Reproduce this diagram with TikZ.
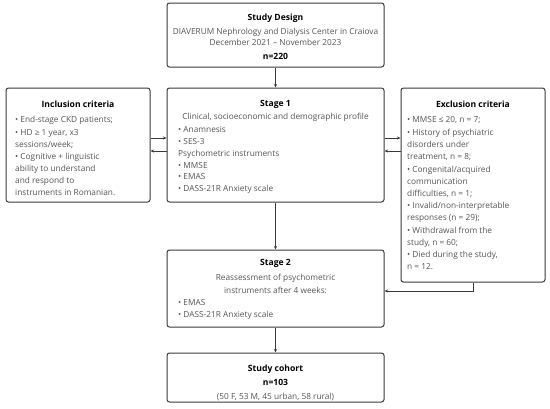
\documentclass[tikz,border=0pt]{standalone}
\usepackage{fontspec}
\setmainfont{Open Sans}
\usetikzlibrary{arrows.meta}
\definecolor{boxline}{HTML}{3A3A3A}
\definecolor{txt}{HTML}{555555}
\begin{document}
\begin{tikzpicture}[x=1pt,y=-1pt,
 box/.style={draw=boxline, line width=1pt, rounded corners=2.5pt, inner sep=0, fill=white},
 ttl/.style={font=\fontsize{8.6}{10}\selectfont\bfseries, text=black, anchor=mid, inner sep=0},
 ln/.style={font=\fontsize{8.3}{9}\selectfont, text=txt, anchor=mid west, inner sep=0},
 cl/.style={font=\fontsize{8.3}{9}\selectfont, text=txt, anchor=mid, inner sep=0},
 conn/.style={draw=boxline, line width=0.9pt, -{Stealth[length=3.5pt,width=3pt]}}]
\useasboundingbox (0,0) rectangle (550,408);
\fill[white] (0,0) rectangle (550,408);

% boxes
\node[box, minimum width=217pt, minimum height=64pt] (design) at (275.5,35) {};
\node[box, minimum width=217pt, minimum height=114pt] (stage1) at (275.5,145) {};
\node[box, minimum width=144pt, minimum height=114pt] (incl) at (78,145) {};
\node[box, minimum width=144pt, minimum height=194pt] (excl) at (473,185) {};
\node[box, minimum width=217pt, minimum height=77pt] (stage2) at (275.5,288.5) {};
\node[box, minimum width=217pt, minimum height=49pt] (cohort) at (275.5,377.5) {};

% connectors
\draw[conn] (design.south) -- (stage1.north);
\draw[conn] (stage1.south) -- (stage2.north);
\draw[conn] (stage2.south) -- (cohort.north);
\draw[conn] ([yshift=7pt]incl.east) -- ([yshift=7pt]stage1.west);
\draw[conn] ([yshift=-6pt]stage1.west) -- ([yshift=-6pt]incl.east);
\draw[conn] ([yshift=7pt]stage1.east) -- ([yshift=7pt]stage1.east -| excl.west);
\draw[conn] ([yshift=-6pt]stage1.east -| excl.west) -- ([yshift=-6pt]stage1.east);
\draw[conn] (excl.south) |- ([yshift=-2.5pt]stage2.east);

% study design text
\node[ttl] (dt) at (275.5,18) {Study Design};
\node[cl] (d1) at (275.5,32) {DIAVERUM Nephrology and Dialysis Center in Craiova};
\node[cl] (d2) at (275.5,43) {December 2021 – November 2023};
\node[ttl] (d3) at (275.5,57) {n=220};

% stage 1 text
\node[ttl] (s1t) at (275.5,104) {Stage 1};
\node[cl] (s1c) at (275.5,117) {Clinical, socioeconomic and demographic profile};
\node[ln] (s1a) at (178,130) {• Anamnesis};
\node[ln] (s1b) at (178,142) {• SES-3};
\node[ln] (s1p) at (178,154) {Psychometric instruments};
\node[ln] (s1m) at (178,165.5) {• MMSE};
\node[ln] (s1e) at (178,177) {• EMAS};
\node[ln] (s1d) at (178,188.5) {• DASS-21R Anxiety scale};

% inclusion text
\node[ttl] (it) at (78,105) {Inclusion criteria};
\node[ln] (i1) at (15,120) {• End-stage CKD patients;};
\node[ln] (i2) at (15,132.5) {• HD ≥ 1 year, x3};
\node[ln] (i3) at (15,145) {sessions/week;};
\node[ln] (i4) at (15,157) {• Cognitive + linguistic};
\node[ln] (i5) at (15,169) {ability to understand};
\node[ln] (i6) at (15,181) {and respond to};
\node[ln] (i7) at (15,192.5) {instruments in Romanian.};

% exclusion text
\node[ttl] (et) at (473,105) {Exclusion criteria};
\node[ln] (e1) at (407,120) {• MMSE ≤ 20, n = 7;};
\node[ln] (e2) at (407,133) {• History of psychiatric};
\node[ln] (e3) at (407,145) {disorders under};
\node[ln] (e4) at (407,157) {treatment, n = 8;};
\node[ln] (e5) at (407,170) {• Congenital/acquired};
\node[ln] (e6) at (407,182) {communication};
\node[ln] (e7) at (407,193.5) {difficulties, n = 1;};
\node[ln] (e8) at (407,206) {• Invalid/non-interpretable};
\node[ln] (e9) at (407,218) {responses (n = 29);};
\node[ln] (e10) at (407,231) {• Withdrawal from the};
\node[ln] (e11) at (407,242.5) {study, n = 60;};
\node[ln] (e12) at (407,255) {• Died during the study,};
\node[ln] (e13) at (407,267) {n = 12.};

% stage 2 text
\node[ttl] (s2t) at (275.5,263) {Stage 2};
\node[cl] (s2a) at (275.5,278) {Reassessment of psychometric};
\node[cl] (s2b) at (275.5,290.5) {instruments after 4 weeks:};
\node[ln] (s2c) at (178,303) {• EMAS};
\node[ln] (s2d) at (178,315) {• DASS-21R Anxiety scale};

% cohort text
\node[ttl] (ct) at (275.5,369) {Study cohort};
\node[ttl] (cn) at (275.5,383) {n=103};
\node[cl] (cd) at (275.5,396.5) {(50 F, 53 M, 45 urban, 58 rural)};
\end{tikzpicture}
\end{document}
